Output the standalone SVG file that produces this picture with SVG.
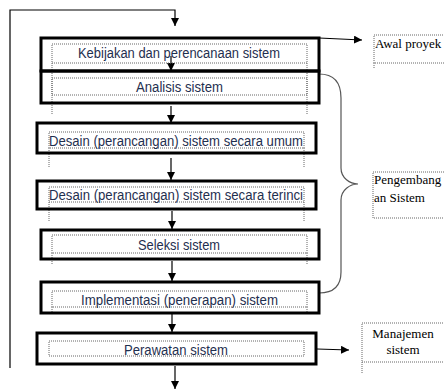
<svg xmlns="http://www.w3.org/2000/svg" width="444" height="389" viewBox="0 0 444 389">
<defs>
<marker id="ah" markerUnits="userSpaceOnUse" markerWidth="10" markerHeight="10" refX="8" refY="4" orient="auto">
<path d="M0,0 L8,4 L0,8 Z" fill="#000"/>
</marker>
<style>
.box{fill:none;stroke:#000;stroke-width:3}
.dot{fill:none;stroke:#666;stroke-width:1;stroke-dasharray:1 1}
.lbl{font-family:"Liberation Sans",Arial,sans-serif;font-size:14px;fill:#1f2f4f}
.ser{font-family:"Liberation Serif","Times New Roman",serif;font-size:13px;fill:#000}
.con{fill:none;stroke:#000;stroke-width:1.2}
</style>
</defs>
<rect width="444" height="389" fill="#fff"/>

<g id="connectors">
<path class="con" d="M10 368 V10 H175 V26" stroke="#333" marker-end="url(#ah)"/>
<line class="con" x1="171" y1="56" x2="171" y2="71" marker-end="url(#ah)"/>
<line class="con" x1="171" y1="106" x2="171" y2="123" marker-end="url(#ah)"/>
<line class="con" x1="171" y1="158" x2="171" y2="180" marker-end="url(#ah)"/>
<line class="con" x1="172" y1="211" x2="172" y2="229" marker-end="url(#ah)"/>
<line class="con" x1="172" y1="261" x2="172" y2="281" marker-end="url(#ah)"/>
<line class="con" x1="172" y1="314" x2="172" y2="332" marker-end="url(#ah)"/>
<line class="con" x1="175" y1="366" x2="175" y2="389" marker-end="url(#ah)"/>
<line class="con" x1="319" y1="38" x2="362" y2="40" marker-end="url(#ah)"/>
<line class="con" x1="317" y1="349" x2="349" y2="350" marker-end="url(#ah)"/>
<path d="M319 74 C333 74 341 82 341 98 V168 C341 178 350 184 358 184 C350 184 341 190 341 200 V272 C341 286 333 293 319 293" fill="none" stroke="#555" stroke-width="1.2"/>
</g>

<g id="n1">
<rect class="dot" x="52" y="44" width="255" height="19"/>
<path class="dot" d="M52 63 V115 M307 63 V115"/>
<rect class="box" x="41" y="38" width="278" height="33"/>
<text class="lbl" x="78" y="58" textLength="202" lengthAdjust="spacingAndGlyphs">Kebijakan dan perencanaan sistem</text>
</g>
<g id="n2">
<rect class="dot" x="52" y="78" width="255" height="17"/>
<rect class="box" x="41" y="71" width="278" height="32"/>
<text class="lbl" x="136" y="92" textLength="87" lengthAdjust="spacingAndGlyphs">Analisis sistem</text>
</g>
<g id="n3">
<rect class="dot" x="49" y="132" width="255" height="16"/>
<path class="dot" d="M49 148 V167 M304 148 V167"/>
<rect class="box" x="37" y="123" width="279" height="30"/>
<text class="lbl" x="49" y="146" textLength="254" lengthAdjust="spacingAndGlyphs">Desain (perancangan) sistem secara umum</text>
</g>
<g id="n4">
<rect class="dot" x="49" y="187" width="255" height="15"/>
<path class="dot" d="M49 202 V222 M304 202 V222"/>
<rect class="box" x="37" y="181" width="279" height="28"/>
<text class="lbl" x="49" y="200" textLength="254" lengthAdjust="spacingAndGlyphs">Desain (perancangan) sistem secara terinci</text>
</g>
<g id="n5">
<rect class="dot" x="52" y="235" width="255" height="18"/>
<path class="dot" d="M52 253 V265 M307 253 V265"/>
<rect class="box" x="41" y="230" width="278" height="29"/>
<text class="lbl" x="138" y="250" textLength="82" lengthAdjust="spacingAndGlyphs">Seleksi sistem</text>
</g>
<g id="n6">
<rect class="dot" x="52" y="291" width="255" height="16"/>
<path class="dot" d="M52 307 V312 M307 307 V312"/>
<rect class="box" x="41" y="282" width="278" height="31"/>
<text class="lbl" x="81" y="305" textLength="197" lengthAdjust="spacingAndGlyphs">Implementasi (penerapan) sistem</text>
</g>
<g id="n7">
<rect class="dot" x="49" y="341" width="255" height="15"/>
<rect class="box" x="37" y="333" width="279" height="31"/>
<text class="lbl" x="124" y="355" textLength="104" lengthAdjust="spacingAndGlyphs">Perawatan sistem</text>
</g>

<g id="awal">
<rect class="dot" x="374" y="35" width="72" height="28"/>
<path class="dot" d="M374 63 V68"/>
<text class="ser" x="375" y="48">Awal proyek</text>
</g>
<g id="pengembangan">
<rect class="dot" x="373" y="172" width="72" height="46"/>
<text class="ser" x="374" y="184">Pengembang</text>
<text class="ser" x="374" y="202">an Sistem</text>
</g>
<g id="manajemen">
<rect class="dot" x="362" y="323" width="84" height="39"/>
<path class="dot" d="M362 362 V373"/>
<text class="ser" x="403" y="338" text-anchor="middle">Manajemen</text>
<text class="ser" x="403" y="354" text-anchor="middle">sistem</text>
</g>
</svg>
